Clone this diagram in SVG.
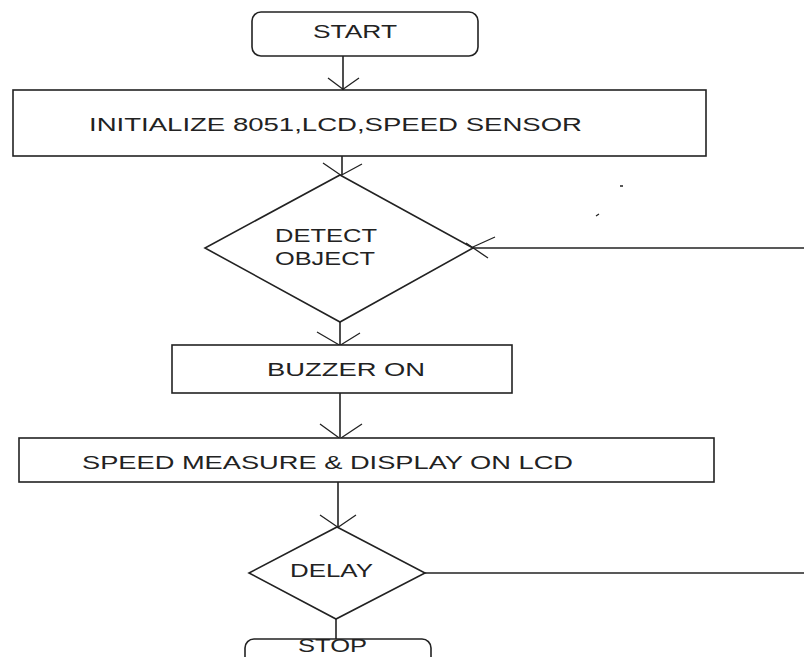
<svg xmlns="http://www.w3.org/2000/svg" width="804" height="657" viewBox="0 0 804 657">
<defs>
<style>
.shape{fill:#fff;stroke:#222;stroke-width:1.6}
.ln{fill:none;stroke:#222;stroke-width:1.6}
.hd{fill:none;stroke:#222;stroke-width:1.3}
.t{font-family:"Liberation Sans",Arial,sans-serif;font-size:18.5px;fill:#222}
</style>
</defs>
<rect width="804" height="657" fill="#fff"/>
<g id="connectors">
<line class="ln" x1="343" y1="56" x2="343" y2="90"/>
<path class="hd" d="M328,78 L344,90 M359,78 L342,90"/>
<line class="ln" x1="342" y1="156" x2="342" y2="175"/>
<path class="hd" d="M323,163 L342,176 M362,164 L338,177"/>
<line class="ln" x1="473" y1="248" x2="804" y2="248"/>
<path class="hd" d="M495,237 L464,251 M488,258 L466,243"/>
<line class="ln" x1="340" y1="322" x2="340" y2="345"/>
<path class="hd" d="M317,332 L341,346 M360,333 L339,346"/>
<line class="ln" x1="340" y1="393" x2="340" y2="437"/>
<path class="hd" d="M320,424 L342,440 M362,424 L338,440"/>
<line class="ln" x1="338" y1="482" x2="338" y2="527"/>
<path class="hd" d="M320,515 L339,528 M356,515 L337,528"/>
<line class="ln" x1="425" y1="573" x2="804" y2="573"/>
<line class="ln" x1="336" y1="619" x2="336" y2="639"/>
<path class="hd" d="M620,186 L623,186 M596,216 L599,214"/>
</g>
<g id="start">
<rect class="shape" x="252" y="12" width="226" height="44" rx="9"/>
<text class="t" x="313" y="38" textLength="84" lengthAdjust="spacingAndGlyphs">START</text>
</g>
<g id="init">
<rect class="shape" x="13" y="90" width="693" height="66"/>
<text class="t" x="89" y="131" textLength="493" lengthAdjust="spacingAndGlyphs">INITIALIZE 8051,LCD,SPEED SENSOR</text>
</g>
<g id="detect">
<polygon class="shape" points="340,175 473,248 340,322 205,248"/>
<text class="t" x="275" y="242" textLength="102" lengthAdjust="spacingAndGlyphs">DETECT</text>
<text class="t" x="275" y="265" textLength="100" lengthAdjust="spacingAndGlyphs">OBJECT</text>
</g>
<g id="buzzer">
<rect class="shape" x="172" y="345" width="340" height="48"/>
<text class="t" x="267" y="376" textLength="158" lengthAdjust="spacingAndGlyphs">BUZZER ON</text>
</g>
<g id="speed">
<rect class="shape" x="19" y="438" width="695" height="44"/>
<text class="t" x="82" y="469" textLength="491" lengthAdjust="spacingAndGlyphs">SPEED MEASURE &amp; DISPLAY ON LCD</text>
</g>
<g id="delay">
<polygon class="shape" points="337,527 425,573 336,619 249,573"/>
<text class="t" x="290" y="577" textLength="83" lengthAdjust="spacingAndGlyphs">DELAY</text>
</g>
<g id="stop">
<rect class="shape" x="245" y="639" width="186" height="40" rx="9"/>
<text class="t" x="298" y="652" font-size="15" textLength="69" lengthAdjust="spacingAndGlyphs">STOP</text>
</g>
</svg>
